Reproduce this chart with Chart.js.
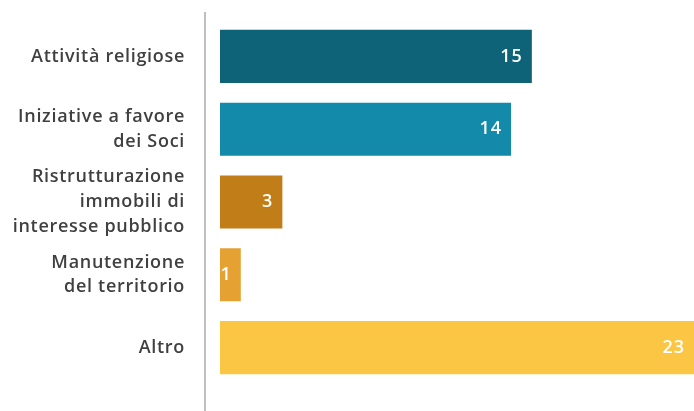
<!DOCTYPE html>
<html>
<head>
<meta charset="utf-8">
<script src="https://cdn.jsdelivr.net/npm/chart.js@4.4.1/dist/chart.umd.min.js"></script>
<style>
  body { margin: 0; background: #fff; }
  canvas { display: block; }
</style>
</head>
<body>
<canvas id="barChart" width="694" height="411"></canvas>
<script>
const categories = [
    ['Attività religiose'],
    ['Iniziative a favore', 'dei Soci'],
    ['Ristrutturazione', 'immobili di', 'interesse pubblico'],
    ['Manutenzione', 'del territorio'],
    ['Altro']
];
const values = [15, 14, 3, 1, 23];
const barColors = ['#0f6378', '#138aa9', '#c17d17', '#e5a232', '#fcc645'];

const FONT = '"Open Sans", Lato, sans-serif';

// a bit of tracking, closer to the original geometric font
const tracking = {
    id: 'tracking',
    beforeDraw(chart) { chart.ctx.letterSpacing = '0.7px'; },
    afterDraw(chart) { chart.ctx.letterSpacing = '0px'; }
};

// white value labels at the end of each bar
const valueLabels = {
    id: 'valueLabels',
    afterDatasetsDraw(chart) {
        const ctx = chart.ctx;
        const meta = chart.getDatasetMeta(0);
        ctx.save();
        ctx.font = '600 18px ' + FONT;
        ctx.letterSpacing = '1px';
        ctx.fillStyle = '#ffffff';
        ctx.textAlign = 'right';
        ctx.textBaseline = 'middle';
        meta.data.forEach((bar, i) => {
            const right = Math.min(bar.x, chart.chartArea.right);
            ctx.fillText(values[i], right - 9, bar.y);
        });
        ctx.restore();
    }
};

// grey vertical axis line
const axisLine = {
    id: 'axisLine',
    beforeDatasetsDraw(chart) {
        const ctx = chart.ctx;
        ctx.save();
        ctx.strokeStyle = '#bfbfbf';
        ctx.lineWidth = 2;
        ctx.beginPath();
        ctx.moveTo(chart.chartArea.left - 15, 12);
        ctx.lineTo(chart.chartArea.left - 15, chart.height);
        ctx.stroke();
        ctx.restore();
    }
};

const ctx = document.getElementById('barChart').getContext('2d');
const chart = new Chart(ctx, {
    type: 'bar',
    data: {
        labels: categories,
        datasets: [{
            data: values,
            backgroundColor: barColors,
            borderWidth: 0,
            categoryPercentage: 1,
            barPercentage: 0.73
        }]
    },
    options: {
        indexAxis: 'y',
        responsive: false,
        animation: false,
        layout: {
            padding: { top: 20, bottom: 27, left: 0, right: 0 }
        },
        scales: {
            x: {
                display: false,
                min: 0,
                max: 22.8
            },
            y: {
                grid: { display: false, drawTicks: false },
                border: { display: false },
                afterFit(scale) {
                    scale.width = 220;
                    scale.paddingTop = 0;
                    scale.paddingBottom = 0;
                },
                ticks: {
                    autoSkip: false,
                    color: '#404040',
                    padding: 35,
                    font: { family: FONT, size: 18, weight: '600', lineHeight: 1.38 }
                }
            }
        },
        plugins: {
            legend: { display: false },
            tooltip: { enabled: false }
        }
    },
    plugins: [tracking, valueLabels, axisLine]
});
</script>
</body>
</html>
